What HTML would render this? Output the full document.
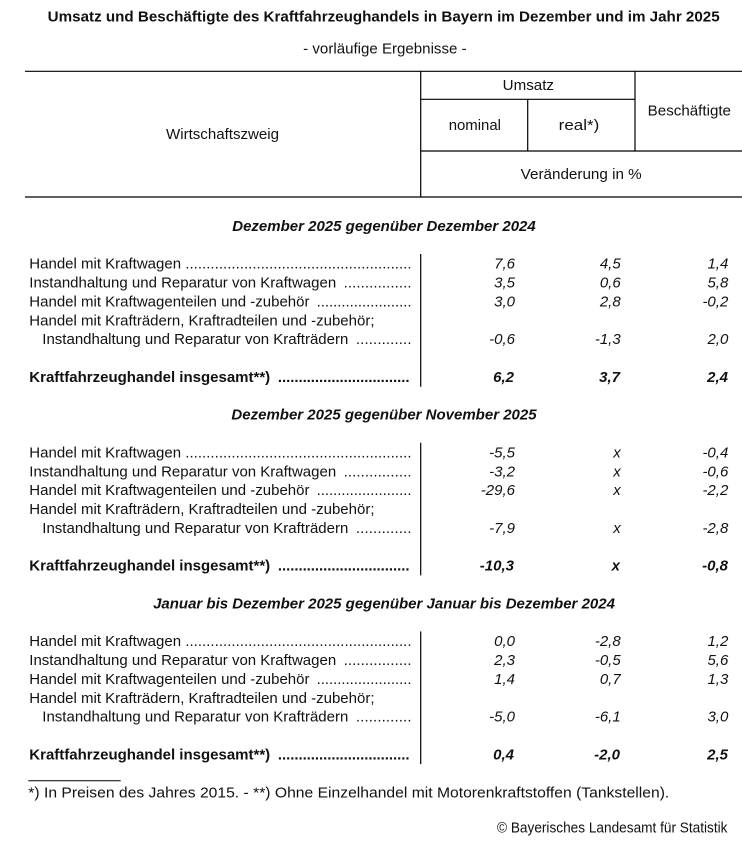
<!DOCTYPE html>
<html><head><meta charset="utf-8">
<style>
html,body{margin:0;padding:0;background:#fff;}
svg{display:block;}
text{font-family:"Liberation Sans",Arial,sans-serif;font-size:15px;fill:#111;}
.b{font-weight:bold;}
.i{font-style:italic;}
.v{font-style:italic;text-anchor:end;}
.vb{font-style:italic;font-weight:bold;text-anchor:end;}
.h{font-style:italic;font-weight:bold;text-anchor:middle;}
line{stroke:#000;stroke-width:1.2;}
</style></head>
<body>
<svg width="742" height="843" viewBox="0 0 742 843" xmlns="http://www.w3.org/2000/svg">
<!-- Title -->
<text class="b" x="47.7" y="21.5" textLength="672" lengthAdjust="spacingAndGlyphs">Umsatz und Beschäftigte des Kraftfahrzeughandels in Bayern im Dezember und im Jahr 2025</text>
<text x="303.2" y="53.3" textLength="163.4" lengthAdjust="spacingAndGlyphs">- vorläufige Ergebnisse -</text>

<!-- Header lines -->
<line x1="25" y1="71.3" x2="742" y2="71.3"/>
<line x1="25" y1="197" x2="742" y2="197"/>
<line x1="420.7" y1="71.3" x2="420.7" y2="197"/>
<line x1="420.7" y1="99.3" x2="635" y2="99.3"/>
<line x1="635" y1="71.3" x2="635" y2="151"/>
<line x1="527.7" y1="99.3" x2="527.7" y2="151"/>
<line x1="420.7" y1="151" x2="742" y2="151"/>

<text x="502.7" y="90" textLength="51.3" lengthAdjust="spacingAndGlyphs">Umsatz</text>
<text x="448.7" y="130" textLength="52.3" lengthAdjust="spacingAndGlyphs">nominal</text>
<text x="558.7" y="130" textLength="40.6" lengthAdjust="spacingAndGlyphs">real*)</text>
<text x="647.7" y="115.7" textLength="83.3" lengthAdjust="spacingAndGlyphs">Beschäftigte</text>
<text x="166" y="139" textLength="113" lengthAdjust="spacingAndGlyphs">Wirtschaftszweig</text>
<text x="520.7" y="179" textLength="121" lengthAdjust="spacingAndGlyphs">Veränderung in %</text>

<!-- Section 1 -->
<g transform="translate(0,0)">
<text class="h" x="384" y="231">Dezember 2025 gegenüber Dezember 2024</text>
<line x1="420.7" y1="254" x2="420.7" y2="386.7"/>
<text x="29.3" y="268.7">Handel mit Kraftwagen</text>
<text x="185.3" y="268.7" textLength="226.2" lengthAdjust="spacing">......................................................</text>
<text x="29.3" y="287.6">Instandhaltung und Reparatur von Kraftwagen</text>
<text x="343.6" y="287.6" textLength="67.9" lengthAdjust="spacing">................</text>
<text x="29.3" y="306.5">Handel mit Kraftwagenteilen und -zubehör</text>
<text x="316.6" y="306.5" textLength="94.9" lengthAdjust="spacing">.......................</text>
<text x="29.3" y="325.4">Handel mit Krafträdern, Kraftradteilen und -zubehör;</text>
<text x="42.3" y="344.2">Instandhaltung und Reparatur von Krafträdern</text>
<text x="355.9" y="344.2" textLength="55.6" lengthAdjust="spacing">.............</text>
<text class="b" x="29.3" y="382">Kraftfahrzeughandel insgesamt**)</text>
<text class="b" x="277.9" y="382" textLength="131.6" lengthAdjust="spacing">................................</text>

<text class="v" x="515" y="268.7">7,6</text><text class="v" x="620.7" y="268.7">4,5</text><text class="v" x="728.3" y="268.7">1,4</text>
<text class="v" x="515" y="287.6">3,5</text><text class="v" x="620.7" y="287.6">0,6</text><text class="v" x="728.3" y="287.6">5,8</text>
<text class="v" x="515" y="306.5">3,0</text><text class="v" x="620.7" y="306.5">2,8</text><text class="v" x="728.3" y="306.5">-0,2</text>
<text class="v" x="515" y="344.2">-0,6</text><text class="v" x="620.7" y="344.2">-1,3</text><text class="v" x="728.3" y="344.2">2,0</text>
<text class="vb" x="514" y="382">6,2</text><text class="vb" x="620" y="382">3,7</text><text class="vb" x="728" y="382">2,4</text>
</g>

<!-- Section 2 -->
<g transform="translate(0,188.7)">
<text class="h" x="384" y="231">Dezember 2025 gegenüber November 2025</text>
<line x1="420.7" y1="254" x2="420.7" y2="386.7"/>
<text x="29.3" y="268.7">Handel mit Kraftwagen</text>
<text x="185.3" y="268.7" textLength="226.2" lengthAdjust="spacing">......................................................</text>
<text x="29.3" y="287.6">Instandhaltung und Reparatur von Kraftwagen</text>
<text x="343.6" y="287.6" textLength="67.9" lengthAdjust="spacing">................</text>
<text x="29.3" y="306.5">Handel mit Kraftwagenteilen und -zubehör</text>
<text x="316.6" y="306.5" textLength="94.9" lengthAdjust="spacing">.......................</text>
<text x="29.3" y="325.4">Handel mit Krafträdern, Kraftradteilen und -zubehör;</text>
<text x="42.3" y="344.2">Instandhaltung und Reparatur von Krafträdern</text>
<text x="355.9" y="344.2" textLength="55.6" lengthAdjust="spacing">.............</text>
<text class="b" x="29.3" y="382">Kraftfahrzeughandel insgesamt**)</text>
<text class="b" x="277.9" y="382" textLength="131.6" lengthAdjust="spacing">................................</text>

<text class="v" x="515" y="268.7">-5,5</text><text class="v" x="620.7" y="268.7">x</text><text class="v" x="728.3" y="268.7">-0,4</text>
<text class="v" x="515" y="287.6">-3,2</text><text class="v" x="620.7" y="287.6">x</text><text class="v" x="728.3" y="287.6">-0,6</text>
<text class="v" x="515" y="306.5">-29,6</text><text class="v" x="620.7" y="306.5">x</text><text class="v" x="728.3" y="306.5">-2,2</text>
<text class="v" x="515" y="344.2">-7,9</text><text class="v" x="620.7" y="344.2">x</text><text class="v" x="728.3" y="344.2">-2,8</text>
<text class="vb" x="514" y="382">-10,3</text><text class="vb" x="620" y="382">x</text><text class="vb" x="728" y="382">-0,8</text>
</g>

<!-- Section 3 -->
<g transform="translate(0,377.4)">
<text class="h" x="384" y="231">Januar bis Dezember 2025 gegenüber Januar bis Dezember 2024</text>
<line x1="420.7" y1="254" x2="420.7" y2="386.7"/>
<text x="29.3" y="268.7">Handel mit Kraftwagen</text>
<text x="185.3" y="268.7" textLength="226.2" lengthAdjust="spacing">......................................................</text>
<text x="29.3" y="287.6">Instandhaltung und Reparatur von Kraftwagen</text>
<text x="343.6" y="287.6" textLength="67.9" lengthAdjust="spacing">................</text>
<text x="29.3" y="306.5">Handel mit Kraftwagenteilen und -zubehör</text>
<text x="316.6" y="306.5" textLength="94.9" lengthAdjust="spacing">.......................</text>
<text x="29.3" y="325.4">Handel mit Krafträdern, Kraftradteilen und -zubehör;</text>
<text x="42.3" y="344.2">Instandhaltung und Reparatur von Krafträdern</text>
<text x="355.9" y="344.2" textLength="55.6" lengthAdjust="spacing">.............</text>
<text class="b" x="29.3" y="382">Kraftfahrzeughandel insgesamt**)</text>
<text class="b" x="277.9" y="382" textLength="131.6" lengthAdjust="spacing">................................</text>

<text class="v" x="515" y="268.7">0,0</text><text class="v" x="620.7" y="268.7">-2,8</text><text class="v" x="728.3" y="268.7">1,2</text>
<text class="v" x="515" y="287.6">2,3</text><text class="v" x="620.7" y="287.6">-0,5</text><text class="v" x="728.3" y="287.6">5,6</text>
<text class="v" x="515" y="306.5">1,4</text><text class="v" x="620.7" y="306.5">0,7</text><text class="v" x="728.3" y="306.5">1,3</text>
<text class="v" x="515" y="344.2">-5,0</text><text class="v" x="620.7" y="344.2">-6,1</text><text class="v" x="728.3" y="344.2">3,0</text>
<text class="vb" x="514" y="382">0,4</text><text class="vb" x="620" y="382">-2,0</text><text class="vb" x="728" y="382">2,5</text>
</g>

<!-- Footnote -->
<line x1="28.3" y1="780.7" x2="120.7" y2="780.7" style="stroke-width:1"/>
<text x="28.3" y="797.3" textLength="641" lengthAdjust="spacingAndGlyphs">*) In Preisen des Jahres 2015. - **) Ohne Einzelhandel mit Motorenkraftstoffen (Tankstellen).</text>
<text x="497" y="832.7" textLength="230.5" lengthAdjust="spacingAndGlyphs">© Bayerisches Landesamt für Statistik</text>
</svg>
</body></html>
